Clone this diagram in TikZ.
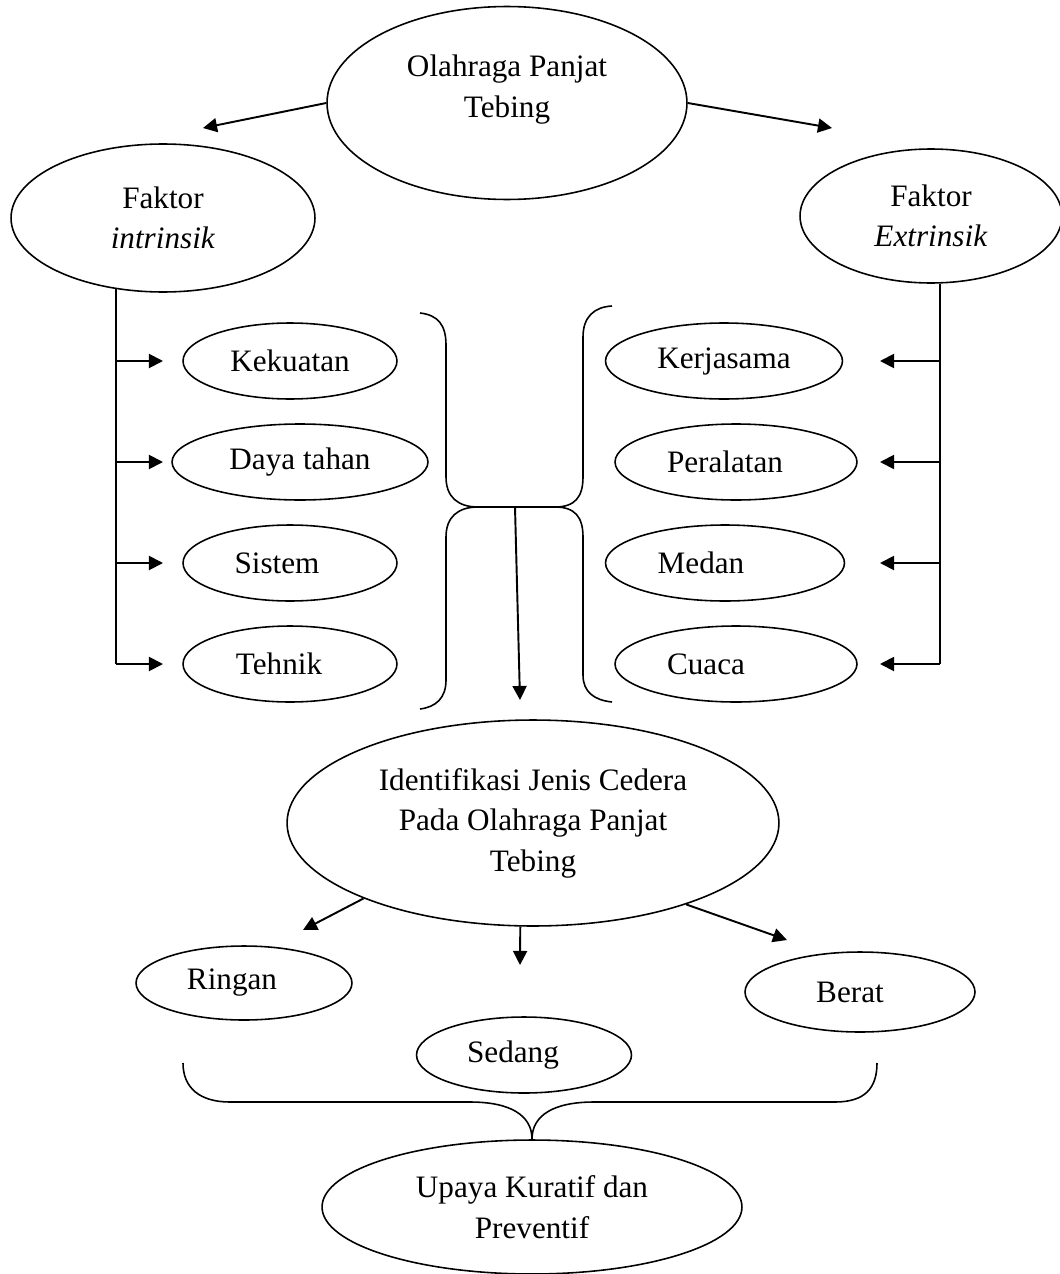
\documentclass[tikz,border=0pt]{standalone}
\usepackage{fontspec}
\setmainfont{Liberation Serif}
\usetikzlibrary{shapes.geometric, arrows.meta}
\tikzset{oval/.style = {ellipse, draw=black, line width=0.9pt, inner sep=0pt, align=center},
         arr/.style  = {-{Triangle[length=8pt, width=8pt]}, line width=1.1pt},
         brace/.style = {line width=0.9pt}}

\begin{document}
\begin{tikzpicture}[x=0.02cm, y=-0.02cm, font=\fontsize{17.75}{23}\selectfont]
        \useasboundingbox (0,0) rectangle (1060,1274);

        % top level
        \node [oval, minimum width=7.2cm, minimum height=3.86cm] (olah) at (507,103) {Olahraga Panjat\\Tebing\\[-4pt]\mbox{}};
        \node [oval, minimum width=6.08cm, minimum height=2.96cm] (intr) at (163,218) {Faktor\\\textit{intrinsik}};
        \node [oval, minimum width=5.24cm, minimum height=2.68cm] (extr) at (931,216) {Faktor\\\textit{Extrinsik}};

        \coordinate (tipL) at (203,128);
        \coordinate (tipR) at (832,128);
        \draw [arr] (olah.west) -- (tipL);
        \draw [arr] (olah.east) -- (tipR);

        % intrinsic factors
        \node [oval, minimum width=4.28cm, minimum height=1.52cm] (kek)  at (290,361) {Kekuatan};
        \node [oval, minimum width=5.12cm, minimum height=1.52cm] (daya) at (300,462) {Daya tahan};
        \node [oval, minimum width=4.28cm, minimum height=1.52cm] (sis)  at (290,563) {Sistem\hspace*{0.52cm}};
        \node [oval, minimum width=4.28cm, minimum height=1.52cm] (teh)  at (290,664) {Tehnik\hspace*{0.44cm}};

        \coordinate (spineL) at (116,664);
        \draw [line width=1.1pt] (intr.236 -| spineL) -- (spineL);
        \foreach \n/\y in {kek/361, daya/462, sis/563, teh/664} {
            \coordinate (in\n) at (163,\y);
            \draw [arr] (spineL |- in\n) -- (in\n);
        }

        % extrinsic factors
        \node [oval, minimum width=4.74cm, minimum height=1.52cm] (kerja) at (724,361) {Kerjasama};
        \node [oval, minimum width=4.84cm, minimum height=1.52cm] (alat)  at (736,462) {Peralatan\hspace*{0.44cm}};
        \node [oval, minimum width=4.78cm, minimum height=1.52cm] (medan) at (725,563) {Medan\hspace*{0.96cm}};
        \node [oval, minimum width=4.84cm, minimum height=1.52cm] (cuaca) at (736,664) {Cuaca\hspace*{1.2cm}};

        \coordinate (spineR) at (940,664);
        \draw [line width=1.1pt] (extr.278 -| spineR) -- (spineR);
        \foreach \n/\y in {kerja/361, alat/462, medan/563, cuaca/664} {
            \coordinate (ex\n) at (880,\y);
            \draw [arr] (spineR |- ex\n) -- (ex\n);
        }

        % middle braces
        \draw [brace] (420,313) .. controls (438,315) and (446,325) .. (446,345) -- (446,477)
            .. controls (446,497) and (458,507) .. (478,507) -- (555,507)
            .. controls (575,507) and (583,497) .. (583,477) -- (583,337)
            .. controls (583,317) and (594,307) .. (612,306);
        \draw [brace] (478,507) .. controls (458,507) and (446,517) .. (446,537) -- (446,680)
            .. controls (446,698) and (436,707) .. (420,709);
        \draw [brace] (555,507) .. controls (575,507) and (583,517) .. (583,537) -- (583,675)
            .. controls (583,692) and (594,700) .. (612,702);

        \coordinate (join) at (515,507);
        \coordinate (tipM) at (520,700);
        \draw [arr] (join) -- (tipM);

        % injury types
        \node [oval, minimum width=9.84cm, minimum height=4.12cm] (iden) at (533,823)
            {Identifikasi Jenis Cedera\\Pada Olahraga Panjat\\Tebing};

        \node [oval, minimum width=4.32cm, minimum height=1.48cm] (rin) at (244,983)  {Ringan\hspace*{0.48cm}};
        \node [oval, minimum width=4.30cm, minimum height=1.52cm] (sed) at (524,1055) {Sedang\hspace*{0.44cm}};
        \node [oval, minimum width=4.60cm, minimum height=1.60cm] (ber) at (860,992)  {Berat\hspace*{0.40cm}};

        \coordinate (toRin) at (303,930);
        \coordinate (toSed) at (520,965);
        \coordinate (toBer) at (787,940);
        \draw [arr] (iden.204) -- (toRin);
        \draw [arr] (iden.263) -- (toSed);
        \draw [arr] (iden.332) -- (toBer);

        % treatment
        \node [oval, minimum width=8.4cm, minimum height=2.68cm] (upaya) at (532,1207) {Upaya Kuratif dan\\Preventif};

        \draw [brace] (183,1063) .. controls (183,1088) and (200,1102) .. (230,1102) -- (470,1102)
            .. controls (510,1102) and (532,1115) .. (upaya.north)
            .. controls (532,1115) and (554,1102) .. (594,1102) -- (835,1102)
            .. controls (865,1102) and (877,1088) .. (877,1063);
    \end{tikzpicture}
\end{document}
